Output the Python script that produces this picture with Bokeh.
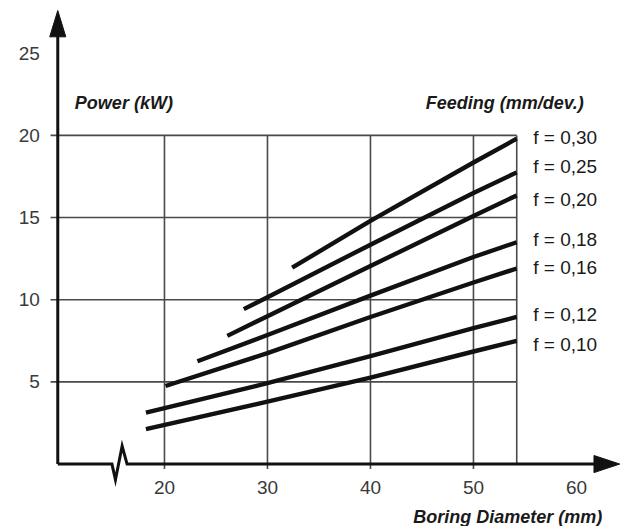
from bokeh.plotting import figure
from bokeh.models import Range1d
from bokeh.core.properties import value
from bokeh.embed import file_html
from bokeh.resources import INLINE

# Power demand of boring vs. bore diameter, one curve per feed rate
feed_labels = ["f = 0,30", "f = 0,25", "f = 0,20", "f = 0,18", "f = 0,16", "f = 0,12", "f = 0,10"]

dia_030 = [32.4, 40, 50, 54.2]
pow_030 = [11.95, 14.8, 18.35, 19.8]
dia_025 = [27.7, 30, 40, 50, 54.2]
pow_025 = [9.43, 10.15, 13.35, 16.5, 17.75]
dia_020 = [26.1, 30, 40, 50, 54.2]
pow_020 = [7.8, 9.0, 12.05, 15.1, 16.35]
dia_018 = [23.2, 30, 40, 50, 54.2]
pow_018 = [6.26, 7.85, 10.25, 12.6, 13.5]
dia_016 = [20.1, 30, 40, 50, 54.2]
pow_016 = [4.75, 6.75, 8.95, 11.05, 11.9]
dia_012 = [18.2, 30, 40, 50, 54.2]
pow_012 = [3.13, 4.92, 6.57, 8.27, 8.95]
dia_010 = [18.2, 30, 40, 50, 54.2]
pow_010 = [2.12, 3.8, 5.26, 6.85, 7.5]

x_ticks = [20, 30, 40, 50, 60]
y_ticks = [5, 10, 15, 20, 25]
grid_x = [20, 30, 40, 50]
grid_y = [5, 10, 15, 20]

series = [
    (dia_030, pow_030), (dia_025, pow_025), (dia_020, pow_020), (dia_018, pow_018),
    (dia_016, pow_016), (dia_012, pow_012), (dia_010, pow_010),
]

FONT = value("Liberation Sans")

p = figure(width=622, height=526, x_range=Range1d(4.08, 64.47), y_range=Range1d(-3.80, 28.21),
           output_backend="svg", toolbar_location=None, min_border=0,
           min_border_left=0, min_border_right=0, min_border_top=0, min_border_bottom=0)
p.axis.visible = False
p.grid.visible = False
p.outline_line_color = None
p.background_fill_color = "white"
p.border_fill_color = "white"

# chart frame limits
y_axis_x = 9.64
grid_right = 54.2
grid_top = 20
x_tip = 64.2
y_tip = 27.6

# vertical placement of the feed labels beside the curve ends
label_pos = [19.9, 18.1, 16.1, 13.65, 11.95, 9.1, 7.3]

# grid: vertical lines at diameter ticks (with short tick below axis), horizontal at power ticks
p.segment(x0=grid_x, y0=[-0.3] * len(grid_x), x1=grid_x, y1=[grid_top] * len(grid_x),
          line_color="#4a4a4a", line_width=1.6)
p.segment(x0=[grid_right], y0=[0], x1=[grid_right], y1=[grid_top], line_color="#4a4a4a", line_width=1.6)
p.segment(x0=[y_axis_x - 0.7] * len(grid_y), y0=grid_y, x1=[grid_right] * len(grid_y), y1=grid_y,
          line_color="#4a4a4a", line_width=1.6)

# y axis with arrow head
y_head_base = y_tip - 1.6
p.line([y_axis_x, y_axis_x], [0, y_head_base + 0.1], line_color="#111111", line_width=3)
p.patch([y_axis_x - 0.78, y_axis_x, y_axis_x + 0.78], [y_head_base, y_tip, y_head_base],
        fill_color="#111111", line_color="#111111")

# x axis with break mark and arrow head
x_head_base = x_tip - 2.5
p.line([y_axis_x, 14.9, 15.24, 15.89, 16.37, x_head_base + 0.1], [0, 0, -0.95, 1.1, 0, 0],
       line_color="#111111", line_width=3, line_join="miter")
p.patch([x_head_base, x_tip, x_head_base], [-0.52, 0, 0.52], fill_color="#111111", line_color="#111111")

# feed-rate curves with labels at their right ends
for (xs, ys), lab, ly in zip(series, feed_labels, label_pos):
    p.line(xs, ys, line_color="#111111", line_width=4.4, line_cap="butt", line_join="round")
    p.text(x=[55.8], y=[ly], text=[lab], text_font=FONT, text_font_size="19px",
           text_color="#1a1a1a", text_baseline="middle", text_align="left")

# tick labels
p.text(x=x_ticks, y=[-1.45] * len(x_ticks), text=[str(v) for v in x_ticks], text_font=FONT,
       text_font_size="19px", text_color="#3a3a3a", text_align="center", text_baseline="middle")
p.text(x=[7.9] * len(y_ticks), y=y_ticks, text=[str(v) for v in y_ticks], text_font=FONT,
       text_font_size="19px", text_color="#3a3a3a", text_align="right", text_baseline="middle")

# axis titles
p.text(x=[11.3], y=[22.0], text=["Power (kW)"], text_font=FONT, text_font_size="18px",
       text_font_style="bold italic", text_color="#1a1a1a", text_baseline="middle", text_align="left")
p.text(x=[60.7], y=[22.0], text=["Feeding (mm/dev.)"], text_font=FONT, text_font_size="18px",
       text_font_style="bold italic", text_color="#1a1a1a", text_baseline="middle", text_align="right")
p.text(x=[62.5], y=[-3.2], text=["Boring Diameter (mm)"], text_font=FONT, text_font_size="18px",
       text_font_style="bold italic", text_color="#1a1a1a", text_baseline="middle", text_align="right")

open("out.html", "w").write(file_html(p, INLINE))
